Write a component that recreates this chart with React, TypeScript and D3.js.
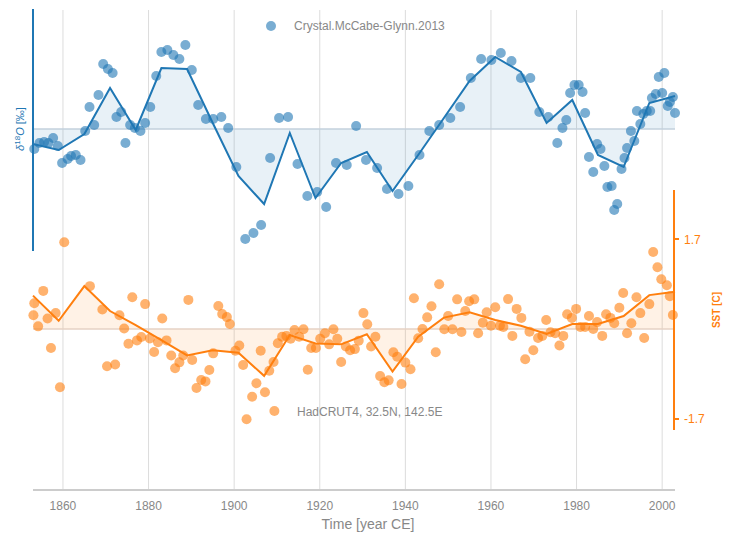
import React from "react";
import * as d3 from "d3";

// δ18O scatter (year, anomaly ‰)
const blueYears = [1853.3,1854.5,1855.6,1856.6,1857.7,1858.8,1859.8,1861.1,1861.9,1863.0,1864.1,1865.2,1866.2,1867.3,1868.3,1869.4,1870.5,1871.6,1872.5,1873.6,1874.6,1875.7,1876.8,1878.1,1879.2,1880.4,1881.8,1883.0,1884.4,1885.8,1887.2,1888.6,1890.1,1891.6,1893.4,1895.1,1897.0,1898.6,1900.5,1902.6,1904.5,1906.3,1908.4,1910.5,1912.6,1914.8,1917.1,1919.4,1921.5,1923.8,1926.3,1928.5,1930.8,1933.4,1935.7,1938.4,1940.7,1943.3,1945.6,1947.9,1950.5,1952.8,1955.3,1957.7,1960.1,1962.3,1964.8,1967.0,1969.2,1971.3,1973.4,1975.5,1976.7,1977.6,1978.5,1979.5,1980.5,1981.4,1982.0,1982.9,1983.9,1984.8,1985.6,1986.5,1987.2,1988.2,1988.8,1989.5,1990.5,1991.2,1991.8,1992.7,1993.5,1994.1,1994.9,1995.6,1996.4,1997.2,1997.6,1998.5,1999.2,2000.0,2000.5,2001.3,2001.8,2002.5,2003.0];
const blueValues = [-0.10,-0.07,-0.065,-0.07,-0.045,-0.085,-0.17,-0.15,-0.135,-0.13,-0.155,-0.01,0.11,0.02,0.17,0.325,0.30,0.28,0.06,0.085,-0.07,0.02,0.005,-0.01,0.03,0.11,0.265,0.385,0.395,0.37,0.35,0.42,0.295,0.12,0.05,0.05,0.06,0.005,-0.19,-0.55,-0.52,-0.48,-0.145,0.055,0.06,-0.175,-0.335,-0.315,-0.39,-0.17,-0.18,0.015,-0.155,-0.195,-0.30,-0.325,-0.285,-0.13,-0.01,0.02,0.055,0.11,0.255,0.35,0.345,0.38,0.34,0.255,0.255,0.085,0.06,-0.07,0.005,0.045,0.18,0.22,0.22,0.185,0.08,-0.14,-0.215,-0.075,-0.10,-0.185,-0.29,-0.285,-0.405,-0.375,-0.20,-0.145,-0.095,-0.01,-0.06,0.09,0.025,0.075,0.09,0.09,0.155,0.175,0.26,0.18,0.28,0.115,0.135,0.16,0.08];

// binned means (6-yr)
const binYears = [1853,1859,1865,1871,1877,1883,1889,1895,1901,1907,1913,1919,1925,1931,1937,1943,1949,1955,1961,1967,1973,1979,1985,1991,1997,2003];
const blueBinned = [-0.075,-0.105,-0.025,0.205,-0.005,0.305,0.30,0.03,-0.235,-0.375,-0.02,-0.345,-0.17,-0.115,-0.31,-0.13,0.055,0.24,0.36,0.285,0.03,0.145,-0.13,-0.19,0.13,0.165];
const sstBinned = [0.63,0.155,0.81,0.34,0.075,-0.21,-0.5,-0.4,-0.45,-0.885,-0.115,-0.275,-0.29,-0.1,-0.805,-0.145,0.215,0.315,0.17,0.06,-0.095,0.095,0.095,0.245,0.64,0.705];

// SST scatter (year, anomaly °C)
const sstYears = [1853.1,1853.3,1854.2,1855.4,1856.4,1857.2,1858.3,1859.3,1860.3,1866.3,1869.2,1870.3,1872.2,1873.2,1874.3,1875.3,1876.2,1877.3,1878.3,1879.2,1880.3,1881.3,1882.2,1883.2,1884.2,1885.3,1886.2,1887.2,1888.1,1889.3,1890.2,1891.2,1892.3,1893.3,1894.2,1895.1,1896.3,1897.2,1898.3,1899.0,1900.3,1901.2,1902.1,1902.9,1904.2,1905.2,1906.2,1907.2,1908.2,1909.2,1909.4,1910.2,1911.2,1912.2,1913.2,1914.1,1915.2,1916.2,1917.2,1918.0,1919.1,1920.1,1921.2,1922.2,1923.2,1924.1,1925.0,1926.1,1927.1,1928.2,1929.1,1930.2,1931.1,1932.0,1933.0,1934.1,1935.1,1936.1,1937.2,1938.1,1939.1,1940.0,1941.2,1942.0,1943.0,1944.0,1945.1,1946.1,1947.1,1947.9,1949.1,1950.0,1951.0,1952.1,1953.1,1954.0,1954.9,1956.1,1957.0,1958.1,1959.0,1960.0,1961.0,1962.1,1962.9,1964.0,1965.0,1966.0,1967.1,1968.0,1969.0,1969.9,1971.0,1972.0,1972.9,1973.9,1975.0,1976.0,1976.9,1977.8,1978.9,1979.9,1980.9,1982.0,1982.9,1983.9,1984.8,1986.0,1986.9,1987.9,1988.8,1990.0,1990.9,1991.8,1992.8,1994.0,1994.9,1995.8,1997.0,1997.9,1998.9,1999.8,2001.1,2001.8,2002.5];
const sstValues = [0.26,0.485,0.05,0.72,0.20,-0.36,0.30,-1.10,1.64,0.81,0.37,-0.705,-0.67,0.26,0.01,-0.28,0.60,-0.215,-0.15,0.47,-0.18,-0.435,-0.25,0.20,-0.215,-0.50,-0.74,-0.63,-0.50,0.55,-0.585,-1.115,-0.965,-0.99,-0.775,-0.46,0.435,0.285,0.225,0.095,-0.41,-0.31,-0.68,-1.705,-1.28,-1.025,-0.41,-1.195,-0.79,-0.625,-1.55,-0.27,-0.145,-0.13,-0.185,-0.02,-0.145,-0.005,-0.77,-0.36,-0.36,-0.185,-0.08,-0.29,-0.005,-0.185,-0.625,-0.33,-0.40,-0.38,-0.22,0.30,0.09,-0.33,-0.145,-0.89,-1.005,-0.97,-0.44,-0.525,-1.04,-0.635,-0.76,0.58,-0.175,0.0,0.22,0.43,-0.44,0.845,-0.005,0.245,-0.005,0.56,-0.055,0.34,0.525,0.56,-0.08,0.12,0.315,0.06,0.41,0.06,0.04,0.565,-0.13,0.38,0.21,-0.57,-0.05,-0.40,-0.17,-0.13,0.17,-0.06,-0.08,-0.31,-0.13,0.28,0.21,0.38,0.04,0.04,0.245,0.0,0.13,-0.13,0.28,0.21,0.11,0.40,0.68,-0.08,0.11,0.60,0.30,-0.17,0.47,1.455,1.165,0.94,0.825,0.62,0.265];

const xTicks = [1860,1880,1900,1920,1940,1960,1980,2000];
const sstTicks = [-1.7, 1.7];

const BLUE = "#1f77b4";
const ORANGE = "#ff7f0e";
const FONT = "'Liberation Sans', Arial, sans-serif";

export default function App() {
  const W = 733, H = 543;
  const x = d3.scaleLinear().domain([1853, 2003]).range([33, 675]);
  const yB = d3.scaleLinear().domain([-0.61, 0.6]).range([251, 9]);
  const yS = d3.scaleLinear().domain([-1.908, 2.626]).range([430, 190]);

  const blueBin = binYears.map((yr, i) => ({ yr, v: blueBinned[i] }));
  const sstBin = binYears.map((yr, i) => ({ yr, v: sstBinned[i] }));

  const areaB = d3.area<any>().x(d => x(d.yr)).y0(yB(0)).y1(d => yB(d.v));
  const lineB = d3.line<any>().x(d => x(d.yr)).y(d => yB(d.v));
  const areaS = d3.area<any>().x(d => x(d.yr)).y0(yS(0)).y1(d => yS(d.v));
  const lineS = d3.line<any>().x(d => x(d.yr)).y(d => yS(d.v));

  return (
    <svg width={W} height={H} style={{ position: "absolute", left: 0, top: 0, fontFamily: FONT }}>
      <rect width={W} height={H} fill="#fff" />
      {xTicks.map(t => (
        <line key={t} x1={x(t)} x2={x(t)} y1={10} y2={490} stroke="#dcdcdc" strokeWidth={1} />
      ))}
      {/* areas */}
      <path d={areaB(blueBin) || ""} fill={BLUE} fillOpacity={0.1} />
      <path d={areaS(sstBin) || ""} fill={ORANGE} fillOpacity={0.1} />
      <line x1={33} x2={675} y1={yB(0)} y2={yB(0)} stroke="#c3d0dc" strokeWidth={1.5} />
      <line x1={33} x2={675} y1={yS(0)} y2={yS(0)} stroke="#e6d2c4" strokeWidth={1.5} />
      {/* points */}
      {blueYears.map((yr, i) => (
        <circle key={"b" + i} cx={x(yr)} cy={yB(blueValues[i])} r={5} fill={BLUE} fillOpacity={0.6} />
      ))}
      {sstYears.map((yr, i) => (
        <circle key={"s" + i} cx={x(yr)} cy={yS(sstValues[i])} r={5} fill={ORANGE} fillOpacity={0.6} />
      ))}
      <path d={lineB(blueBin) || ""} fill="none" stroke={BLUE} strokeWidth={2} />
      <path d={lineS(sstBin) || ""} fill="none" stroke={ORANGE} strokeWidth={2} />

      {/* x axis */}
      <line x1={33} x2={675} y1={490} y2={490} stroke="#cccccc" strokeWidth={2} />
      {xTicks.map(t => (
        <text key={"t" + t} x={x(t)} y={510} textAnchor="middle" fontSize={12} fill="#888">{t}</text>
      ))}
      <text x={368} y={529} textAnchor="middle" fontSize={14} fill="#888">Time [year CE]</text>

      {/* left axis */}
      <line x1={33} x2={33} y1={9} y2={251} stroke={BLUE} strokeWidth={2} />
      <text transform={`translate(24,${yB(0)}) rotate(-90)`} textAnchor="middle" fontSize={11} fill={BLUE}>
        <tspan fontStyle="italic">δ</tspan><tspan dy={-4} fontSize={8}>18</tspan><tspan dy={4} fontStyle="italic">O</tspan> [‰]
      </text>

      {/* right axis */}
      <line x1={674} x2={674} y1={190} y2={430} stroke={ORANGE} strokeWidth={2} />
      {sstTicks.map(t => (
        <g key={"s" + t}>
          <line x1={674} x2={679} y1={yS(t)} y2={yS(t)} stroke={ORANGE} strokeWidth={2} />
          <text x={684} y={yS(t) + 4.5} fontSize={12} fill={ORANGE}>{t}</text>
        </g>
      ))}
      <text transform="translate(720,310) rotate(-90)" textAnchor="middle" fontSize={10} fontWeight="bold" fill={ORANGE}>SST [C]</text>

      {/* legend / labels */}
      <circle cx={271} cy={26} r={5} fill={BLUE} fillOpacity={0.6} />
      <text x={294} y={30} fontSize={12} fill="#888">Crystal.McCabe-Glynn.2013</text>
      <text x={297} y={416} fontSize={12} fill="#888">HadCRUT4, 32.5N, 142.5E</text>
    </svg>
  );
}
